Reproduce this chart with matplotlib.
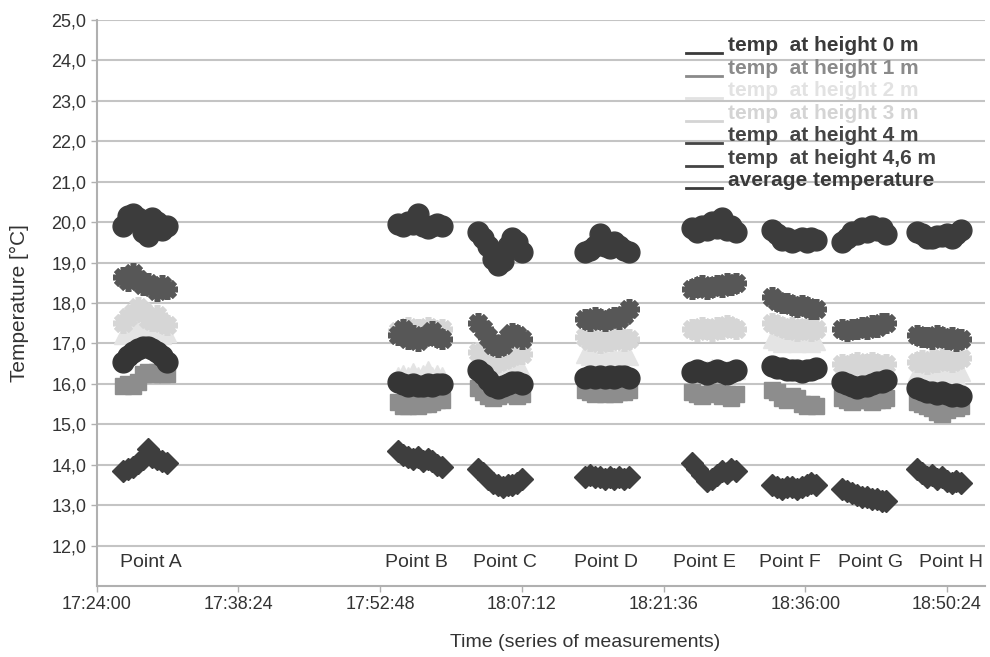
import matplotlib
matplotlib.use("Agg")
import matplotlib.pyplot as plt
import matplotlib.dates as mdates
from matplotlib.ticker import FuncFormatter, FixedLocator
import pandas as pd

plt.rcParams['font.family'] = ['Liberation Sans', 'DejaVu Sans']

# measurement points and the start of each series of readings
point_names = ['Point A', 'Point B', 'Point C', 'Point D', 'Point E', 'Point F', 'Point G', 'Point H']
point_start = ['17:26:40', '17:54:37', '18:02:45', '18:13:37', '18:24:30', '18:32:38', '18:39:45', '18:47:22']
sample_sec = [0, 30, 60, 90, 120, 150, 180, 210, 240, 270]
label_times = ['17:29:31', '17:56:27', '18:05:30', '18:15:45', '18:25:43', '18:34:27', '18:42:41', '18:50:49']

temp_0m = [
    [13.85, 13.9, 13.95, 14.05, 14.15, 14.4, 14.2, 14.15, 14.1, 14.05],
    [14.35, 14.25, 14.2, 14.15, 14.2, 14.1, 14.15, 14.1, 14.0, 13.95],
    [13.9, 13.8, 13.65, 13.55, 13.5, 13.45, 13.5, 13.5, 13.55, 13.65],
    [13.7, 13.75, 13.7, 13.7, 13.65, 13.7, 13.65, 13.7, 13.65, 13.7],
    [14.05, 13.9, 13.75, 13.6, 13.65, 13.75, 13.85, 13.8, 13.9, 13.85],
    [13.5, 13.45, 13.4, 13.45, 13.45, 13.4, 13.45, 13.5, 13.55, 13.5],
    [13.4, 13.35, 13.3, 13.25, 13.2, 13.2, 13.15, 13.15, 13.1, 13.1],
    [13.9, 13.8, 13.7, 13.75, 13.65, 13.7, 13.6, 13.55, 13.6, 13.55],
]
temp_1m = [
    [15.95, 16.0, 15.95, 16.05, 16.25, 16.3, 16.25, 16.3, 16.25, 16.25],
    [15.55, 15.45, 15.45, 15.5, 15.45, 15.5, 15.5, 15.55, 15.6, 15.6],
    [15.9, 15.8, 15.7, 15.65, 15.7, 15.75, 15.8, 15.75, 15.7, 15.75],
    [15.85, 15.8, 15.75, 15.8, 15.75, 15.8, 15.75, 15.8, 15.8, 15.85],
    [15.8, 15.75, 15.7, 15.75, 15.8, 15.8, 15.7, 15.75, 15.65, 15.75],
    [15.85, 15.8, 15.65, 15.6, 15.7, 15.65, 15.5, 15.45, 15.5, 15.45],
    [15.65, 15.6, 15.55, 15.6, 15.65, 15.6, 15.55, 15.6, 15.6, 15.65],
    [15.55, 15.5, 15.45, 15.4, 15.3, 15.25, 15.35, 15.45, 15.4, 15.45],
]
temp_2m = [
    [17.2, 17.3, 17.25, 17.35, 17.3, 17.2, 17.25, 17.15, 17.2, 17.25],
    [16.2, 16.25, 16.2, 16.3, 16.2, 16.25, 16.35, 16.2, 16.25, 16.2],
    [16.4, 16.35, 16.3, 16.25, 16.3, 16.35, 16.4, 16.45, 16.4, 16.35],
    [16.75, 16.7, 16.65, 16.55, 16.7, 16.6, 16.7, 16.65, 16.75, 16.7],
    [16.35, 16.3, 16.3, 16.35, 16.4, 16.35, 16.3, 16.35, 16.3, 16.35],
    [17.1, 17.05, 17.0, 17.1, 17.05, 17.0, 17.1, 17.05, 17.0, 17.05],
    [16.35, 16.3, 16.35, 16.3, 16.4, 16.35, 16.3, 16.35, 16.4, 16.35],
    [16.3, 16.25, 16.2, 16.3, 16.25, 16.2, 16.3, 16.25, 16.2, 16.3],
]
temp_3m = [
    [17.5, 17.65, 17.75, 17.9, 17.8, 17.6, 17.55, 17.7, 17.5, 17.45],
    [17.3, 17.35, 17.4, 17.3, 17.35, 17.3, 17.4, 17.35, 17.3, 17.35],
    [16.8, 16.75, 16.6, 16.5, 16.55, 16.6, 16.65, 16.7, 16.8, 16.75],
    [17.15, 17.05, 17.1, 17.0, 17.1, 17.05, 17.1, 17.15, 17.05, 17.1],
    [17.35, 17.3, 17.4, 17.35, 17.3, 17.4, 17.35, 17.45, 17.4, 17.35],
    [17.5, 17.45, 17.4, 17.35, 17.4, 17.3, 17.35, 17.4, 17.3, 17.35],
    [16.5, 16.45, 16.5, 16.55, 16.45, 16.5, 16.55, 16.5, 16.45, 16.5],
    [16.55, 16.6, 16.5, 16.6, 16.55, 16.65, 16.6, 16.55, 16.6, 16.65],
]
temp_4m = [
    [18.65, 18.55, 18.75, 18.6, 18.45, 18.5, 18.4, 18.3, 18.45, 18.35],
    [17.2, 17.35, 17.1, 17.2, 17.05, 17.15, 17.2, 17.3, 17.15, 17.1],
    [17.5, 17.35, 17.15, 16.95, 16.9, 16.95, 17.15, 17.25, 17.2, 17.1],
    [17.6, 17.55, 17.65, 17.6, 17.55, 17.6, 17.65, 17.6, 17.7, 17.85],
    [18.35, 18.4, 18.45, 18.35, 18.4, 18.45, 18.4, 18.5, 18.45, 18.5],
    [18.15, 18.05, 18.0, 18.0, 17.95, 17.9, 17.95, 17.9, 17.85, 17.85],
    [17.35, 17.3, 17.35, 17.35, 17.4, 17.35, 17.45, 17.4, 17.5, 17.5],
    [17.2, 17.15, 17.15, 17.1, 17.2, 17.15, 17.1, 17.15, 17.05, 17.1],
]
temp_46m = [
    [19.9, 20.15, 20.2, 20.1, 19.75, 19.65, 20.1, 20.0, 19.8, 19.9],
    [19.95, 19.9, 20.0, 19.95, 20.2, 19.9, 19.85, 19.9, 19.95, 19.9],
    [19.75, 19.6, 19.4, 19.1, 18.95, 19.05, 19.4, 19.6, 19.5, 19.25],
    [19.25, 19.3, 19.4, 19.7, 19.4, 19.35, 19.5, 19.4, 19.3, 19.25],
    [19.85, 19.75, 19.9, 19.8, 20.0, 19.85, 20.1, 19.8, 19.9, 19.75],
    [19.8, 19.7, 19.55, 19.6, 19.5, 19.55, 19.6, 19.5, 19.6, 19.55],
    [19.5, 19.6, 19.75, 19.7, 19.85, 19.75, 19.9, 19.8, 19.85, 19.7],
    [19.75, 19.7, 19.6, 19.6, 19.65, 19.65, 19.7, 19.6, 19.7, 19.8],
]
temp_avg = [
    [16.55, 16.7, 16.8, 16.85, 16.9, 16.9, 16.85, 16.8, 16.7, 16.55],
    [16.05, 16.0, 15.95, 16.0, 15.95, 15.95, 16.0, 15.95, 16.0, 16.0],
    [16.35, 16.25, 16.1, 15.95, 15.9, 15.95, 16.0, 16.05, 16.05, 16.0],
    [16.15, 16.2, 16.15, 16.2, 16.15, 16.2, 16.15, 16.2, 16.2, 16.15],
    [16.3, 16.35, 16.3, 16.25, 16.3, 16.35, 16.3, 16.25, 16.3, 16.35],
    [16.45, 16.4, 16.4, 16.35, 16.35, 16.35, 16.3, 16.35, 16.35, 16.4],
    [16.05, 16.0, 15.95, 15.9, 15.95, 15.95, 16.0, 16.05, 16.05, 16.1],
    [15.9, 15.85, 15.8, 15.8, 15.75, 15.8, 15.75, 15.7, 15.75, 15.7],
]

day = '2000-01-01 '

def to_time(s):
    return pd.Timestamp(day + s)

# sample times for every point
times = []
for start in point_start:
    t0 = to_time(start)
    times.append([t0 + pd.Timedelta(seconds=s) for s in sample_sec])

series = [
    ('temp  at height 0 m', temp_0m, 'D', '#3e3e3e', 11, {}),
    ('temp  at height 1 m', temp_1m, 's', '#8d8d8d', 11, {}),
    ('temp  at height 2 m', temp_2m, '^', '#e4e4e4', 13, {}),
    ('temp  at height 3 m', temp_3m, (8, 2, 0), '#d6d6d6', 15, {'markeredgewidth': 4}),
    ('temp  at height 4 m', temp_4m, (8, 2, 0), '#575757', 15, {'markeredgewidth': 4}),
    ('temp  at height 4,6 m', temp_46m, 'o', '#3c3c3c', 15, {}),
    ('average temperature', temp_avg, 'o', '#353535', 15, {}),
]
legend_colors = ['#3a3a3a', '#8a8a8a', '#e2e2e2', '#d4d4d4', '#444444', '#444444', '#3a3a3a']

fig = plt.figure(figsize=(9.9, 6.57), dpi=100)
ax = fig.add_axes([96.7 / 990, 1 - 586 / 657, (985 - 96.7) / 990, (586 - 20) / 657])

for label, values, marker, color, ms, extra in series:
    for i in range(len(point_names)):
        ax.plot(times[i], values[i], linestyle='none', marker=marker, color=color,
                markersize=ms, markeredgecolor=color, zorder=3, **extra)

for name, t in zip(point_names, label_times):
    ax.text(to_time(t), 11.58, name, ha='center', va='center', fontsize=14, color='#333333')

ax.set_ylim(11, 25)
ax.set_xlim(to_time('17:24:00'), to_time('18:54:16'))
ax.yaxis.set_major_locator(FixedLocator(list(range(12, 26))))
ax.yaxis.set_major_formatter(FuncFormatter(lambda v, p: f'{v:.1f}'.replace('.', ',')))
tick_times = ['17:24:00', '17:38:24', '17:52:48', '18:07:12', '18:21:36', '18:36:00', '18:50:24']
ax.set_xticks([to_time(t) for t in tick_times])
ax.xaxis.set_major_formatter(mdates.DateFormatter('%H:%M:%S'))

ax.grid(axis='y', color='#c4c4c4', linewidth=1.5, zorder=0)
ax.set_axisbelow(True)
for side in ['top', 'right']:
    ax.spines[side].set_visible(False)
for side in ['left', 'bottom']:
    ax.spines[side].set_color('#b0b0b0')
    ax.spines[side].set_linewidth(1.5)
ax.tick_params(direction='out', length=4, width=1, color='#b0b0b0', labelsize=13, labelcolor='#333333')

ax.set_xlabel('Time (series of measurements)', fontsize=14, color='#333333')
ax.xaxis.set_label_coords(0.55, -0.085)
ax.set_ylabel('Temperature [°C]', fontsize=15, color='#333333')
ax.yaxis.set_label_coords(-0.076, 0.5)

# legend drawn as in the original: a short line at the baseline and bold coloured text
for i, (s, c) in enumerate(zip(series, legend_colors)):
    y = 0.9452 - i * 0.03975
    ax.plot([0.6635, 0.704], [y - 0.004, y - 0.004], transform=ax.transAxes, color=c,
            linewidth=2, clip_on=False, zorder=4)
    ax.text(0.7107, y, s[0], transform=ax.transAxes, ha='left', va='baseline',
            fontsize=15, fontweight='bold', color=c, zorder=4)

fig.savefig('out.png', dpi=100)
